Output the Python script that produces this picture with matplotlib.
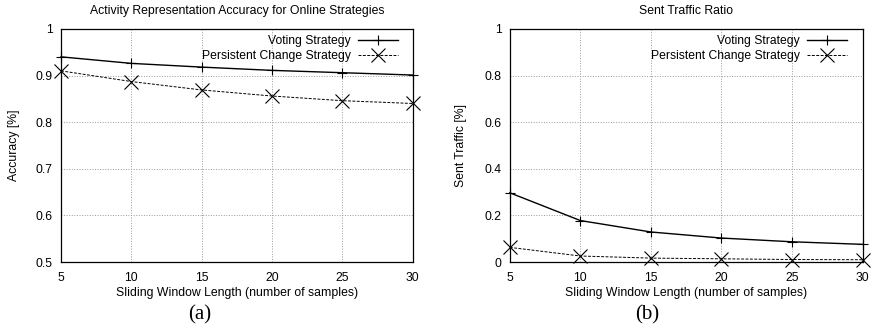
import matplotlib
matplotlib.use('Agg')
import matplotlib.pyplot as plt

window = [5, 10, 15, 20, 25, 30]

acc_voting = [0.940, 0.926, 0.918, 0.911, 0.906, 0.901]
acc_persistent = [0.910, 0.887, 0.869, 0.856, 0.846, 0.840]

traffic_voting = [0.297, 0.178, 0.129, 0.103, 0.087, 0.076]
traffic_persistent = [0.063, 0.026, 0.017, 0.014, 0.011, 0.010]

plt.rcParams['font.family'] = 'Liberation Sans'
plt.rcParams['font.size'] = 8.7

fig = plt.figure(figsize=(8.73, 3.28), dpi=100)
ax1 = fig.add_axes([0.0699, 0.201, 0.403, 0.711])
ax2 = fig.add_axes([0.584, 0.201, 0.404, 0.711])


def draw(ax, voting, persistent, title, ylabel, ylim, yticks, yticklabels, caption, cx, ylab_x):
    ax.plot(window, voting, color='black', lw=1.0, marker='+', ms=7.5, mew=0.8,
            label='Voting Strategy', clip_on=False, zorder=3)
    ax.plot(window, persistent, color='black', lw=0.7, ls=(0, (3, 1.5)), marker='x',
            ms=9.5, mew=0.8, label='Persistent Change Strategy', clip_on=False, zorder=3)
    ax.set_xlim(5, 30)
    ax.set_ylim(*ylim)
    ax.set_xticks(window)
    ax.set_yticks(yticks)
    ax.set_yticklabels(yticklabels)
    ax.grid(True, color='#999999', ls=':', lw=0.7)
    ax.tick_params(axis='x', length=0, pad=7)
    ax.tick_params(axis='y', length=0, pad=6)
    for s in ax.spines.values():
        s.set_linewidth(0.9)
    ax.set_title(title, fontsize=8.8, pad=11)
    ax.set_xlabel('Sliding Window Length (number of samples)', fontsize=8.8)
    ax.set_ylabel(ylabel, fontsize=8.8)
    ax.xaxis.set_label_coords(0.5, -0.107)
    ax.yaxis.set_label_coords(ylab_x, 0.5)
    ax.legend(loc='upper right', bbox_to_anchor=(0.957, 0.972), frameon=False,
              markerfirst=False, fontsize=8.7, handlelength=3.3, handletextpad=0.6,
              labelspacing=0.25, borderaxespad=0, borderpad=0)
    fig.text(cx, 0.040, caption, ha='center', va='center', fontsize=15,
             family='Liberation Serif')


draw(ax1, acc_voting, acc_persistent,
     'Activity Representation Accuracy for Online Strategies', 'Accuracy [%]',
     (0.5, 1.0), [0.5, 0.6, 0.7, 0.8, 0.9, 1.0],
     ['0.5', '0.6', '0.7', '0.8', '0.9', '1'], '(a)', 200 / 873, -0.116)
draw(ax2, traffic_voting, traffic_persistent,
     'Sent Traffic Ratio', 'Sent Traffic [%]',
     (0.0, 1.0), [0, 0.2, 0.4, 0.6, 0.8, 1.0],
     ['0', '0.2', '0.4', '0.6', '0.8', '1'], '(b)', 647 / 873, -0.121)

fig.savefig('out.png', dpi=100)
